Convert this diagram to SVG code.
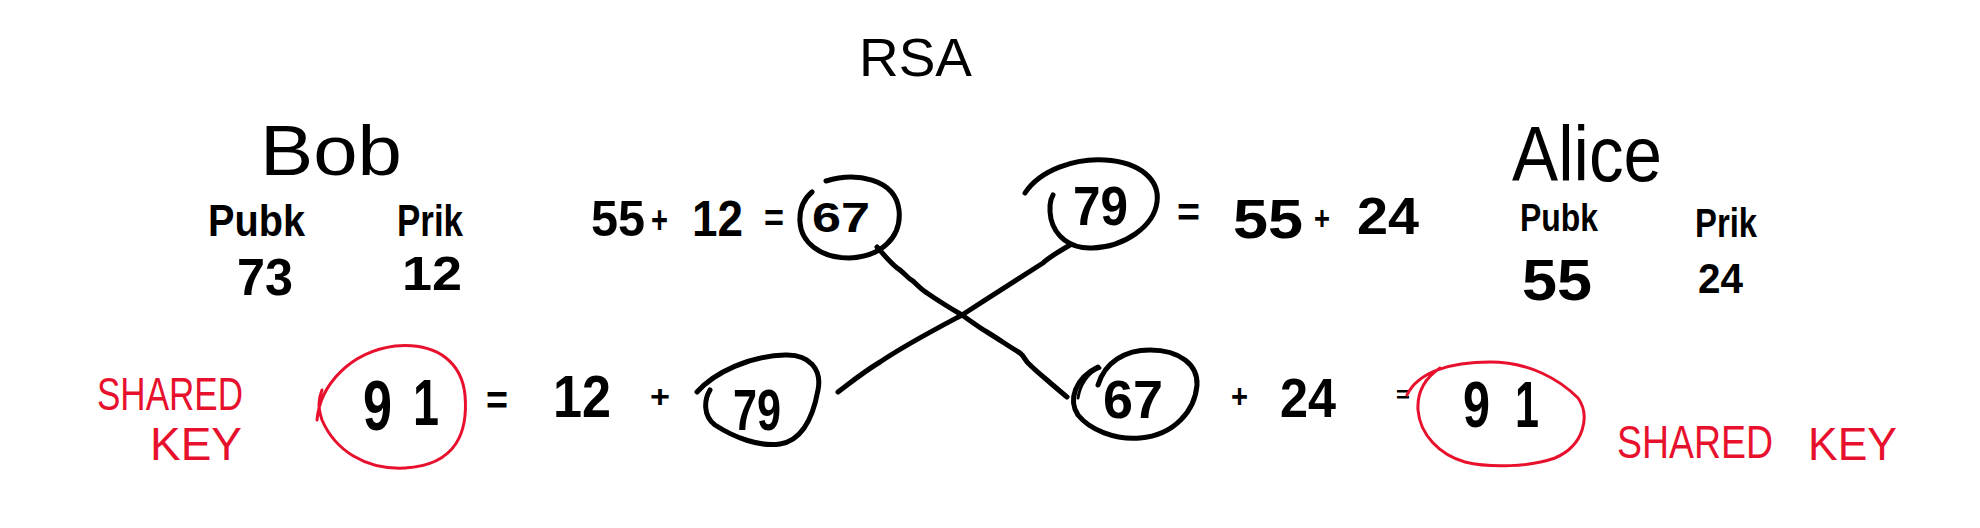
<svg xmlns="http://www.w3.org/2000/svg" width="1980" height="528" viewBox="0 0 1980 528">
<style>
.bg{fill:#ffffff}
.ink{fill:none;stroke:#000;stroke-width:5;stroke-linecap:round;stroke-linejoin:round}
.red{fill:none;stroke:#e8112d;stroke-width:3;stroke-linecap:round;stroke-linejoin:round}
.t{font-family:"Liberation Sans",Arial,sans-serif;fill:#000}
.b{font-weight:bold}
.r{fill:#e8112d}
</style>
<rect class="bg" x="0" y="0" width="1980" height="528"/>

<g id="title">
<text class="t" x="859" y="76" font-size="53" textLength="113" lengthAdjust="spacingAndGlyphs">RSA</text>
</g>

<g id="bob">
<text class="t" x="260" y="175" font-size="70" textLength="142" lengthAdjust="spacingAndGlyphs">Bob</text>
<text class="t b" x="208" y="236" font-size="44" textLength="97" lengthAdjust="spacingAndGlyphs">Pubk</text>
<text class="t b" x="397" y="236" font-size="44" textLength="66" lengthAdjust="spacingAndGlyphs">Prik</text>
<text class="t b" x="237" y="295" font-size="52" textLength="56" lengthAdjust="spacingAndGlyphs">73</text>
<text class="t b" x="402" y="290" font-size="48" textLength="60" lengthAdjust="spacingAndGlyphs">12</text>
</g>

<g id="alice">
<text class="t" x="1512" y="181" font-size="78" textLength="150" lengthAdjust="spacingAndGlyphs">Alice</text>
<text class="t b" x="1520" y="231" font-size="38" textLength="78" lengthAdjust="spacingAndGlyphs">Pubk</text>
<text class="t b" x="1695" y="237" font-size="40" textLength="62" lengthAdjust="spacingAndGlyphs">Prik</text>
<text class="t b" x="1522" y="300" font-size="58" textLength="70" lengthAdjust="spacingAndGlyphs">55</text>
<text class="t b" x="1698" y="293" font-size="42" textLength="45" lengthAdjust="spacingAndGlyphs">24</text>
</g>

<g id="bob-calc">
<text class="t b" x="591" y="236" font-size="50" textLength="54" lengthAdjust="spacingAndGlyphs">55</text>
<text class="t b" x="651" y="233" font-size="38" textLength="17" lengthAdjust="spacingAndGlyphs">+</text>
<text class="t b" x="692" y="236" font-size="50" textLength="51" lengthAdjust="spacingAndGlyphs">12</text>
<text class="t b" x="764" y="231" font-size="38" textLength="20" lengthAdjust="spacingAndGlyphs">=</text>
</g>

<g id="node-67-top">
<path class="ink" d="M 826 181 C 855 172 895 178 899 210 C 902 238 880 257 849 258 C 820 258 801 242 800 222 C 799 207 805 198 812 192"/>
<text class="t b" x="812" y="232" font-size="42" textLength="58" lengthAdjust="spacingAndGlyphs">67</text>
</g>

<g id="node-79-top">
<path class="ink" d="M 1025 193 C 1040 170 1075 158 1105 160 C 1140 162 1160 180 1157 202 C 1154 226 1125 247 1092 248 C 1070 249 1055 236 1051 219 C 1049 208 1050 200 1053 195"/>
<text class="t b" x="1073" y="225" font-size="56" textLength="55" lengthAdjust="spacingAndGlyphs">79</text>
</g>

<g id="alice-calc">
<text class="t b" x="1177" y="226" font-size="40" textLength="23" lengthAdjust="spacingAndGlyphs">=</text>
<text class="t b" x="1233" y="238" font-size="56" textLength="70" lengthAdjust="spacingAndGlyphs">55</text>
<text class="t b" x="1314" y="230" font-size="34" textLength="16" lengthAdjust="spacingAndGlyphs">+</text>
<text class="t b" x="1357" y="234" font-size="52" textLength="62" lengthAdjust="spacingAndGlyphs">24</text>
</g>

<g id="shared-left">
<g transform="translate(97,410) scale(1,1.2)">
<text class="t r" x="0" y="0" font-size="38" textLength="146" lengthAdjust="spacingAndGlyphs">SHARED</text>
</g>
<g transform="translate(150,460) scale(1,1.2)">
<text class="t r" x="0" y="0" font-size="38" textLength="92" lengthAdjust="spacingAndGlyphs">KEY</text>
</g>
</g>

<g id="node-91-left">
<path class="red" d="M 317 420 C 320 385 350 352 395 346 C 440 342 462 365 465 395 C 468 430 458 465 405 468 C 365 470 335 450 322 420 C 318 408 318 400 322 390"/>
<text class="t b" x="363" y="430" font-size="70" textLength="29" lengthAdjust="spacingAndGlyphs">9</text>
<text class="t b" x="413" y="425" font-size="64" textLength="26" lengthAdjust="spacingAndGlyphs">1</text>
</g>

<g id="bob-result">
<text class="t b" x="486" y="414" font-size="40" textLength="22" lengthAdjust="spacingAndGlyphs">=</text>
<text class="t b" x="553" y="417" font-size="60" textLength="58" lengthAdjust="spacingAndGlyphs">12</text>
<text class="t b" x="650" y="407" font-size="32" textLength="20" lengthAdjust="spacingAndGlyphs">+</text>
</g>

<g id="node-79-bottom">
<path class="ink" d="M 697 392 C 715 372 750 356 785 355 C 810 354 822 370 818 390 C 814 412 805 440 780 444 C 760 447 735 438 715 425 C 703 416 704 400 710 390"/>
<text class="t b" x="733" y="430" font-size="58" textLength="48" lengthAdjust="spacingAndGlyphs">79</text>
</g>

<g id="node-67-bottom">
<path class="ink" d="M 1098 385 C 1105 362 1125 350 1150 350 C 1180 350 1198 365 1197 385 C 1195 410 1175 435 1140 438 C 1115 440 1090 430 1078 415 C 1068 400 1075 378 1098 367"/>
<path class="ink" style="stroke-width:3" d="M 1100 368 C 1088 372 1080 385 1078 398"/>
<text class="t b" x="1103" y="418" font-size="54" textLength="60" lengthAdjust="spacingAndGlyphs">67</text>
</g>

<g id="alice-result">
<text class="t b" x="1231" y="408" font-size="34" textLength="17" lengthAdjust="spacingAndGlyphs">+</text>
<text class="t b" x="1280" y="417" font-size="56" textLength="56" lengthAdjust="spacingAndGlyphs">24</text>
<text class="t b" x="1396" y="402" font-size="22" textLength="14" lengthAdjust="spacingAndGlyphs">=</text>
</g>

<g id="node-91-right">
<path class="red" d="M 1407 395 C 1418 372 1450 362 1490 362 C 1530 362 1560 380 1578 398 C 1590 415 1585 445 1555 458 C 1530 467 1490 468 1465 462 C 1440 455 1420 435 1418 410 C 1417 392 1425 378 1440 368"/>
<text class="t b" x="1463" y="427" font-size="64" textLength="27" lengthAdjust="spacingAndGlyphs">9</text>
<text class="t b" x="1515" y="427" font-size="64" textLength="24" lengthAdjust="spacingAndGlyphs">1</text>
</g>

<g id="shared-right">
<g transform="translate(1617,458) scale(1,1.2)">
<text class="t r" x="0" y="0" font-size="38" textLength="156" lengthAdjust="spacingAndGlyphs">SHARED</text>
</g>
<g transform="translate(1808,460) scale(1,1.2)">
<text class="t r" x="0" y="0" font-size="38" textLength="89" lengthAdjust="spacingAndGlyphs">KEY</text>
</g>
</g>

<g id="connectors">
<path class="ink" d="M 1070 245 C 1058 252 1048 258 1043 263 C 1020 278 990 297 962 315 C 930 332 905 345 880 362 C 862 373 850 383 838 392"/>
<path class="ink" d="M 877 247 C 885 256 893 266 900 270 C 906 275 909 279 913 281 C 919 287 922 290 927 293 C 940 302 950 308 962 315 C 972 322 980 328 987 332 C 1000 340 1010 347 1020 353 C 1024 356 1025 360 1028 363 C 1035 370 1041 375 1047 380 C 1055 387 1061 392 1067 397"/>
</g>
</svg>
